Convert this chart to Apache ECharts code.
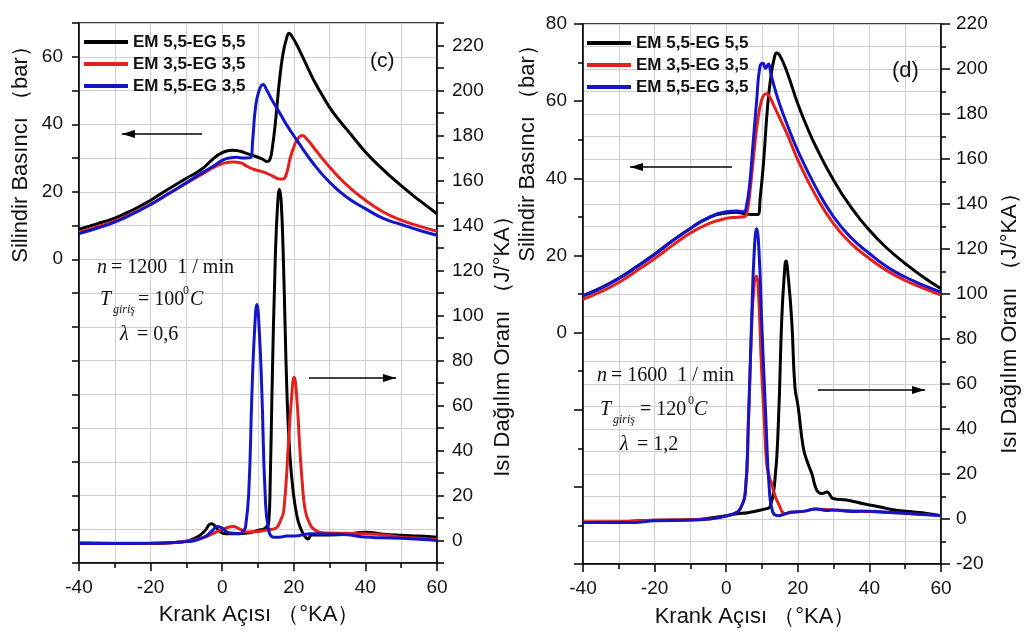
<!DOCTYPE html>
<html>
<head>
<meta charset="utf-8">
<script src="https://cdn.jsdelivr.net/npm/echarts@6/dist/echarts.min.js"></script>
<style>
html,body{margin:0;padding:0;background:#fff;}
#chart{width:1024px;height:636px;}
</style>
</head>
<body>
<div id="chart"></div>
<script>
// ---------- data ----------
const seriesNames = ['EM 5,5-EG 5,5', 'EM 3,5-EG 3,5', 'EM 5,5-EG 3,5'];
const seriesColors = ['#000000', '#e3211c', '#1414c8'];

// Panel (c): cylinder pressure [crank angle, bar]
const cPressBlack = [[-40,8.9],[-35,10.5],[-30,12.2],[-25,14.6],[-20,17.5],[-15,20.8],[-10,24.0],[-7,25.8],[-5,27.3],[-3,29.3],[-1,31.0],[1,32.0],[3,32.3],[5,32.0],[7,31.3],[9,30.6],[11,29.8],[12.5,29.0],[13.3,29.5],[14,33],[15,42],[16,53],[17,61],[18,65.5],[18.7,67.0],[19.5,66],[20.5,64.2],[22,61],[24,56.5],[26,52.2],[28,48.5],[30,45.0],[32.5,41.4],[35,38.2],[40,31.8],[45,26.5],[50,21.8],[55,17.5],[60,13.5]];
const cPressRed = [[-40,8.0],[-35,9.6],[-30,11.3],[-25,13.6],[-20,16.3],[-15,19.4],[-10,22.5],[-5,25.6],[-2,27.4],[0,28.3],[3,28.8],[5,28.6],[7,27.5],[9,26.6],[11.6,25.8],[14,24.7],[16,23.8],[17,23.8],[18,25.5],[19,30],[20,33.2],[21,35.5],[22.3,36.7],[23.5,35.8],[25.5,33.2],[28,29.8],[30,27.3],[32.5,24.4],[35,21.8],[40,17.5],[45,14],[50,11.6],[55,9.8],[60,8.3]];
const cPressBlue = [[-40,7.6],[-35,9.2],[-30,11],[-25,13.4],[-20,16.2],[-15,19.4],[-10,22.7],[-5,26],[-2,27.9],[0,29.3],[2,30.0],[4,30.2],[6,30.0],[8,30.2],[8.5,35],[9.3,45],[10.3,50],[11.4,51.8],[12.5,50],[14,47],[16.2,43.1],[18,39.8],[20.9,35.2],[25.5,28.3],[30,22.8],[35,18.2],[40,15],[45,12.1],[50,10.3],[55,8.6],[60,7.1]];

// Panel (c): heat release rate [crank angle, J/°KA]
const cHrrBlack = [[-40,-1.2],[-30,-1.3],[-20,-1.3],[-15,-1.0],[-10,-0.3],[-7,1.5],[-5,4],[-3,7.4],[-2,6.5],[-1,4.5],[1,3],[4,3],[7,3.3],[10,4.5],[12,5.5],[13,8],[13.4,25],[13.9,65],[14.8,124],[15.5,150],[16,156],[16.5,150],[17.1,124],[18.1,65],[18.9,38],[19.9,20.7],[21,10],[21.8,5.9],[23,2],[24,0.7],[25,2.5],[30,2.5],[35,2.8],[40,3.7],[45,2.8],[50,2.3],[55,2],[60,1.5]];
const cHrrRed = [[-40,-1.0],[-30,-1.2],[-20,-1.2],[-10,-0.3],[-5,1.5],[-2,3.5],[1,5.5],[3,6.2],[5,5],[7,3.8],[10,4],[12,4.5],[14,5],[15.3,5.9],[16.3,9],[17.2,13.3],[18.5,43],[19.3,62],[20.1,72.6],[20.9,62],[21.6,43],[22.4,25],[23.2,13.3],[24.3,8],[25.5,5.2],[28,3.5],[30,3.3],[35,3.2],[40,3],[45,2.5],[50,1.5],[55,1],[60,0.4]];
const cHrrBlue = [[-40,-1.3],[-30,-1.3],[-20,-1.2],[-10,-0.5],[-5,1.5],[-3,4],[-1.3,6.2],[0,5.5],[1.3,3.8],[3,3.2],[4.8,3],[6,4.5],[6.5,5.9],[7.4,20.7],[8.3,65],[9,92],[9.7,104.9],[10.4,92],[11.1,65],[12,20.7],[13,4.4],[14.4,1.5],[16,1.5],[18,2],[20,2],[25,3],[30,2.8],[35,2.5],[40,1.5],[45,1.2],[50,1],[55,0.6],[60,0]];

// Panel (d): cylinder pressure
const dPressBlack = [[-40,9.6],[-35,11.6],[-30,14.1],[-25,17.1],[-20,20.3],[-15,23.8],[-10,27],[-5,29.7],[0,31.0],[3,31.2],[5,30.8],[7,30.6],[8.8,30.6],[9.5,35],[10.5,45],[11.5,58],[12.5,66.5],[13.5,71.5],[14.1,72.5],[15,71.8],[17,67.5],[20,59.3],[22.5,53.5],[25,48.3],[30,39.5],[35,32.3],[40,26.5],[45,21.8],[50,17.9],[55,14.4],[60,11.4]];
const dPressRed = [[-40,8.6],[-35,10.6],[-30,13],[-25,16],[-20,19.2],[-15,22.6],[-10,25.8],[-5,28.2],[0,29.6],[3,29.9],[5,30.0],[5.8,31],[6.8,38],[7.8,47],[8.8,55],[9.8,60],[10.5,61.5],[11.3,61.9],[12.2,61],[13,59.5],[15,55.5],[17,51.5],[20,44.8],[25,35.5],[30,28.2],[35,23],[40,19.2],[45,16],[50,13.5],[55,11.5],[60,9.7]];
const dPressBlue = [[-40,9.5],[-35,11.5],[-30,14],[-25,17],[-20,20.3],[-15,23.8],[-10,27],[-5,29.8],[0,31.3],[3,31.5],[5,31.3],[5.5,32],[6.5,38],[7.5,49],[8.5,60],[9.4,68.8],[10.3,69.8],[11,68.5],[11.8,69.6],[12.5,67],[13.5,63.5],[15,59],[17,54],[20,47.2],[25,37.7],[30,30],[35,24.5],[40,20.5],[45,17],[50,14.4],[55,12.3],[60,10.5]];

// Panel (d): heat release rate
const dHrrBlack = [[-40,-1.5],[-30,-1.3],[-20,-0.5],[-10,-0.3],[-5,0.3],[0,1.5],[3,2.3],[6,2.8],[9.4,3.9],[11,4.5],[12.2,5.3],[13.6,17.2],[14.6,43.9],[15.5,88.3],[16.2,108],[16.7,114.7],[17.3,108],[18.3,88.3],[19.2,58.7],[20.1,49.8],[21.5,32],[22.5,26.1],[23.9,20.2],[25.3,12.8],[26.7,11.3],[28.1,12],[29.9,9.1],[33.6,8.4],[38.3,6.8],[43,5.3],[47,4],[52.3,3.1],[56,2.5],[60,1.5]];
const dHrrRed = [[-40,-1.2],[-30,-1.2],[-20,-0.6],[-10,-0.3],[-5,0],[0,1.3],[3,3],[3.9,4.5],[5.3,11],[6.2,42],[7.1,85],[7.8,104],[8.4,108],[8.9,104],[9.9,66],[10.6,45],[11.3,24.6],[12,19],[12.7,15.7],[13.5,11],[14.6,6.8],[16.5,2.4],[18,3],[22,3.5],[25,4.5],[30,4],[40,3.3],[50,2.5],[60,1.5]];
const dHrrBlue = [[-40,-1.5],[-30,-1.5],[-25,-1.5],[-20,-0.8],[-10,-0.5],[-5,0],[0,1.3],[3,3],[3.9,4.5],[5.3,11.3],[6.2,43.9],[7.1,88.3],[7.8,118],[8.5,129],[9.2,118],[9.9,88.3],[11.1,43.9],[12,14.2],[13,3.1],[14.5,1.5],[16,2],[18,3],[22,3.5],[25,4.5],[28,3.8],[30,4],[35,3.3],[40,3.5],[45,3],[50,2.5],[55,2],[60,1.5]];

const xTitle = 'Krank Açısı （°KA）';
const leftTitle = 'Silindir Basıncı （bar）';
const rightTitle = 'Isı Dağılım Oranı （J/°KA）';

// ---------- chart ----------
const SANS = "'Liberation Sans', Arial, sans-serif";
const SERIF = "'Liberation Serif', 'Times New Roman', serif";
const chart = echarts.init(document.getElementById('chart'), null, {renderer: 'canvas'});

const gridLine = {show: true, lineStyle: {color: '#cfcfcf', width: 1}};
const axisLineS = {show: true, onZero: false, lineStyle: {color: '#000', width: 1.5}};
const labelS = {color: '#111', fontSize: 19, fontFamily: SANS};

function xAxisFor(gi) {
  return {
    type: 'value', gridIndex: gi, min: -40, max: 60, interval: 20,
    axisLine: axisLineS,
    axisTick: {show: true, length: 8, inside: false, lineStyle: {color: '#000', width: 1.5}},
    minorTick: {show: true, splitNumber: 2, length: 5, lineStyle: {color: '#000', width: 1.5}},
    splitLine: gridLine, minorSplitLine: gridLine,
    axisLabel: Object.assign({margin: 15}, labelS)
  };
}

const yAxes = [
  { // c left
    type: 'value', gridIndex: 0, position: 'left', min: -90, max: 70, interval: 10,
    axisLine: axisLineS,
    axisTick: {show: true, length: 7, lineStyle: {color: '#000', width: 1.5}},
    splitLine: gridLine,
    axisLabel: Object.assign({margin: 16, formatter: v => (v >= 0 && v % 20 === 0) ? String(v) : ''}, labelS)
  },
  { // c right
    type: 'value', gridIndex: 0, position: 'right', min: -10, max: 230, interval: 10,
    axisLine: axisLineS,
    axisTick: {show: true, length: 7, lineStyle: {color: '#000', width: 1.5}},
    splitLine: {show: false},
    axisLabel: Object.assign({margin: 15, formatter: v => (v >= 0 && v <= 220 && v % 20 === 0) ? String(v) : ''}, labelS)
  },
  { // d left
    type: 'value', gridIndex: 1, position: 'left', min: -60, max: 80, interval: 20,
    axisLine: axisLineS,
    axisTick: {show: true, length: 9, lineStyle: {color: '#000', width: 1.5}},
    minorTick: {show: true, splitNumber: 2, length: 5, lineStyle: {color: '#000', width: 1.5}},
    splitLine: {show: false},
    axisLabel: Object.assign({margin: 16, formatter: v => v >= 0 ? String(v) : ''}, labelS)
  },
  { // d right
    type: 'value', gridIndex: 1, position: 'right', min: -20, max: 220, interval: 20,
    axisLine: axisLineS,
    axisTick: {show: true, length: 9, lineStyle: {color: '#000', width: 1.5}},
    minorTick: {show: true, splitNumber: 2, length: 5, lineStyle: {color: '#000', width: 1.5}},
    splitLine: gridLine, minorSplitLine: gridLine,
    axisLabel: Object.assign({margin: 15}, labelS)
  }
];

function mk(name, idx, data, xi, yi) {
  return {
    name: name, type: 'line', data: data, xAxisIndex: xi, yAxisIndex: yi,
    showSymbol: false, symbol: 'none', smooth: 0.5, clip: true,
    lineStyle: {color: seriesColors[idx], width: 3},
    itemStyle: {color: seriesColors[idx]},
    z: 3 + idx, animation: false
  };
}

const series = [
  mk(seriesNames[0], 0, cHrrBlack, 0, 1),
  mk(seriesNames[1], 1, cHrrRed, 0, 1),
  mk(seriesNames[2], 2, cHrrBlue, 0, 1),
  mk(seriesNames[0], 0, cPressBlack, 0, 0),
  mk(seriesNames[1], 1, cPressRed, 0, 0),
  mk(seriesNames[2], 2, cPressBlue, 0, 0),
  mk(seriesNames[0], 0, dHrrBlack, 1, 3),
  mk(seriesNames[1], 1, dHrrRed, 1, 3),
  mk(seriesNames[2], 2, dHrrBlue, 1, 3),
  mk(seriesNames[0], 0, dPressBlack, 1, 2),
  mk(seriesNames[1], 1, dPressRed, 1, 2),
  mk(seriesNames[2], 2, dPressBlue, 1, 2)
];

function legendAt(left, top) {
  return {
    left: left, top: top, orient: 'vertical', padding: 0,
    itemWidth: 44, itemHeight: 4, itemGap: 4, selectedMode: false,
    icon: 'rect',
    data: seriesNames.map((n, i) => ({name: n, icon: 'rect', itemStyle: {color: seriesColors[i]}})),
    textStyle: {fontSize: 17, fontWeight: 'bold', fontFamily: SANS, color: '#111', lineHeight: 18}
  };
}

function txt(x, y, s, font, align) {
  return {
    type: 'text', x: x, y: y, z: 100,
    style: {text: s, font: font, fill: '#111', align: align || 'left', verticalAlign: 'middle', textAlign: align || 'left', textVerticalAlign: 'middle'}
  };
}
function vtxt(x, y, s) {
  return {
    type: 'text', x: x, y: y, rotation: Math.PI / 2, z: 100,
    style: {text: s, font: '22px ' + SANS, fill: '#111', align: 'center', verticalAlign: 'middle', textAlign: 'center', textVerticalAlign: 'middle'}
  };
}
function arrow(x1, x2, y, headLeft) {
  const hx = headLeft ? x1 : x2;
  const d = headLeft ? 1 : -1;
  return [
    {type: 'line', z: 100, shape: {x1: x1, y1: y, x2: x2, y2: y}, style: {stroke: '#000', lineWidth: 1.3}},
    {type: 'polygon', z: 100, shape: {points: [[hx, y], [hx + d * 13, y - 4], [hx + d * 13, y + 4]]}, style: {fill: '#000'}}
  ];
}

const I20 = 'italic 20px ' + SERIF;
const R20 = '20px ' + SERIF;
const I12 = 'italic 12px ' + SERIF;
const R12 = '12px ' + SERIF;

const graphics = [
  vtxt(21, 149, leftTitle),
  vtxt(503, 341, rightTitle),
  vtxt(528, 148, leftTitle),
  vtxt(1010, 318, rightTitle),
  txt(259, 615, xTitle, '22px ' + SANS, 'center'),
  txt(755, 617, xTitle, '22px ' + SANS, 'center'),
  txt(370, 61, '(c)', '21px ' + SANS),
  txt(892, 71, '(d)', '22px ' + SANS),
  // panel c annotations
  txt(97, 268, 'n', I20),
  txt(111, 268, '= 1200  1 / min', R20),
  txt(100, 300, 'T', I20),
  txt(113, 310, 'giriş', I12),
  txt(138, 300, '= 100', R20),
  txt(183, 291, '0', R12),
  txt(190, 300, 'C', I20),
  txt(120, 335, 'λ', I20),
  txt(137, 335, '= 0,6', R20),
  // panel d annotations
  txt(597, 376, 'n', I20),
  txt(611, 376, '= 1600  1 / min', R20),
  txt(600, 410, 'T', I20),
  txt(613, 420, 'giriş', I12),
  txt(640, 410, '= 120', R20),
  txt(688, 401, '0', R12),
  txt(694, 410, 'C', I20),
  txt(620, 445, 'λ', I20),
  txt(637, 445, '= 1,2', R20)
].concat(arrow(122, 202, 134, true), arrow(309, 396, 378, false), arrow(630, 732, 167, true), arrow(818, 925, 390, false));

chart.setOption({
  animation: false,
  backgroundColor: '#fff',
  grid: [
    {left: 79, top: 23, width: 358, height: 540, show: true, borderColor: '#000', borderWidth: 1.5, containLabel: false},
    {left: 583, top: 24, width: 358, height: 540, show: true, borderColor: '#000', borderWidth: 1.5, containLabel: false}
  ],
  legend: [legendAt(84, 33), legendAt(587, 34)],
  xAxis: [xAxisFor(0), xAxisFor(1)],
  yAxis: yAxes,
  series: series,
  graphic: graphics
});
</script>
</body>
</html>
